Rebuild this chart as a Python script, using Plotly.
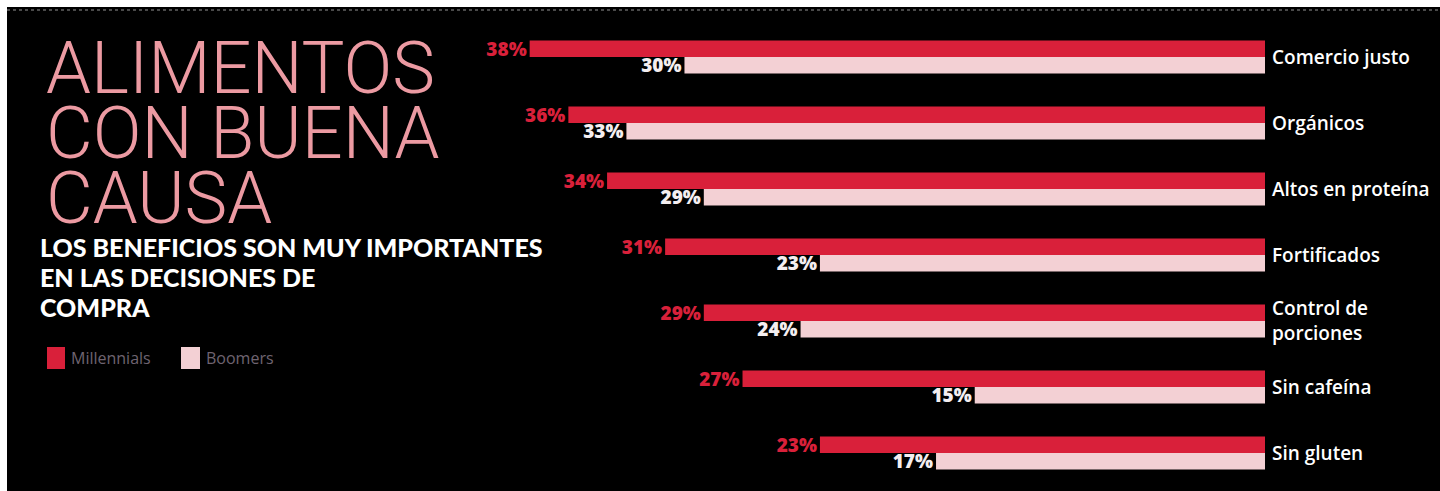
import plotly.graph_objects as go

# Survey data: share of shoppers who consider each benefit very important
categories = ["Comercio justo", "Orgánicos", "Altos en proteína", "Fortificados",
              "Control de<br>porciones", "Sin cafeína", "Sin gluten"]
millennials = [38, 36, 34, 31, 29, 27, 23]
boomers = [30, 33, 29, 23, 24, 15, 17]
series_names = ["Millennials", "Boomers"]
title_lines = ["ALIMENTOS", "CON BUENA", "CAUSA"]
subtitle_lines = ["LOS BENEFICIOS SON MUY IMPORTANTES", "EN LAS DECISIONES DE", "COMPRA"]

W, H = 1440, 491
RED = "#d9203a"
PINK = "#f3d0d4"
TITLE_PINK = "#ec9aa2"


def px(x):
    return x / W


def py(y):
    return 1 - y / H


def label_font(color):
    return dict(color=color, size=19, family="Open Sans", weight=800)


fig = go.Figure()
fig.add_trace(go.Bar(
    y=categories, x=millennials, orientation="h", name=series_names[0],
    marker=dict(color=RED, line=dict(width=0)),
    text=[f"{v}%" for v in millennials], textposition="outside", constraintext="none",
    outsidetextfont=label_font(RED), cliponaxis=False, showlegend=False,
))
fig.add_trace(go.Bar(
    y=categories, x=boomers, orientation="h", name=series_names[1],
    marker=dict(color=PINK, line=dict(width=0)),
    text=[f"{v}%" for v in boomers], textposition="outside", constraintext="none",
    outsidetextfont=label_font("#f4eef0"), cliponaxis=False, showlegend=False,
))

shapes = [
    # black panel with a thin white border on the top and left
    dict(type="rect", xref="paper", yref="paper", x0=px(7), x1=1, y0=0, y1=py(7),
         fillcolor="black", line=dict(width=0), layer="below"),
    dict(type="line", xref="paper", yref="paper", x0=px(7), x1=1, y0=py(10), y1=py(10),
         line=dict(color="#4a4a4a", width=2, dash="dot"), layer="below"),
    # legend swatches
    dict(type="rect", xref="paper", yref="paper", x0=px(47), x1=px(65), y0=py(369), y1=py(347),
         fillcolor=RED, line=dict(width=0)),
    dict(type="rect", xref="paper", yref="paper", x0=px(181), x1=px(200), y0=py(369), y1=py(347),
         fillcolor=PINK, line=dict(width=0)),
]

# Big headline: line pitch comes from the base font size, glyph size from the span
title_text = "<br>".join(f"<span style='font-size:72px'>{t}</span>" for t in title_lines)
subtitle_text = "<br>".join(f"<span style='font-size:25px'>{t}</span>" for t in subtitle_lines)

annotations = [
    dict(text=title_text, x=px(44), y=py(24), xref="paper", yref="paper",
         xanchor="left", yanchor="top", align="left", showarrow=False,
         font=dict(family="Roboto", size=50, color=TITLE_PINK, weight=300)),
    dict(text=subtitle_text, x=px(38), y=py(230), xref="paper", yref="paper",
         xanchor="left", yanchor="top", align="left", showarrow=False,
         font=dict(family="Lato", size=23, color="white", weight=900)),
]
for text, x0 in [(series_names[0], 69), (series_names[1], 204)]:
    annotations.append(dict(
        text=text, x=px(x0), y=py(358), xref="paper", yref="paper",
        xanchor="left", yanchor="middle", showarrow=False,
        font=dict(family="Open Sans", size=16, color="#6f6470"),
    ))

fig.update_layout(
    width=W, height=H,
    margin=dict(l=0, r=0, t=0, b=0),
    paper_bgcolor="white", plot_bgcolor="rgba(0,0,0,0)",
    barmode="group", bargap=0.5, bargroupgap=0,
    xaxis=dict(domain=[px(460), px(1265)], range=[41.6, 0], visible=False, fixedrange=True),
    yaxis=dict(domain=[py(486), py(24)], side="right", autorange="reversed",
               showgrid=False, zeroline=False, showline=False, ticks="",
               ticklabelstandoff=6,
               tickfont=dict(family="Open Sans", size=19, color="white", weight=600)),
    shapes=shapes, annotations=annotations,
)

fig.write_html("out.html")
